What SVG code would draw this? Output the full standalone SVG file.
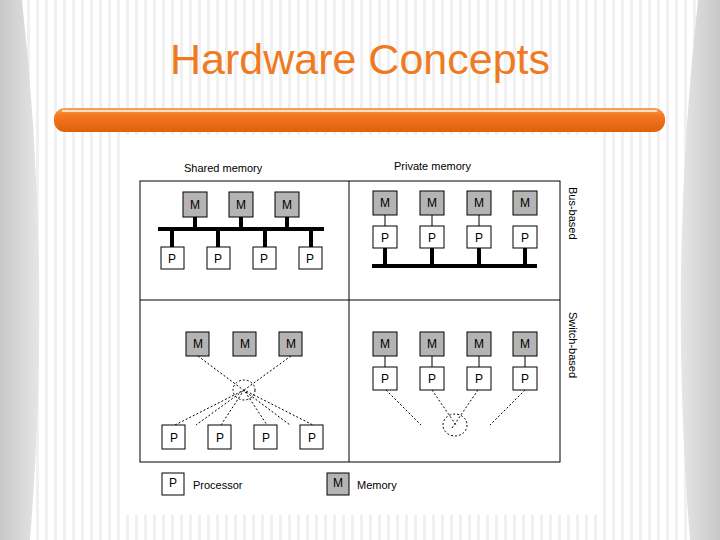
<svg xmlns="http://www.w3.org/2000/svg" width="720" height="540" viewBox="0 0 720 540">
<defs>
<pattern id="stripes" width="9" height="10" patternUnits="userSpaceOnUse"><rect width="9" height="10" fill="#fff"/><rect x="0" width="3" height="10" fill="#f0f0f0"/></pattern>
<linearGradient id="bar" x1="0" y1="0" x2="0" y2="1"><stop offset="0" stop-color="#f9a25a"/><stop offset="0.3" stop-color="#f47820"/><stop offset="1" stop-color="#e0600c"/></linearGradient>
<linearGradient id="sideL" x1="0" x2="1"><stop offset="0" stop-color="#c8c8c8"/><stop offset="1" stop-color="#e6e6e6"/></linearGradient>
<linearGradient id="sideR" x1="1" x2="0"><stop offset="0" stop-color="#c8c8c8"/><stop offset="1" stop-color="#e6e6e6"/></linearGradient>
</defs>
<style>
.m{fill:#b4b4b4;stroke:#000;stroke-width:1}
.p{fill:#fff;stroke:#000;stroke-width:1}
.t{font-family:"Liberation Sans",Arial,sans-serif;font-size:12px;fill:#000;text-anchor:middle}
.l{font-family:"Liberation Sans",Arial,sans-serif;font-size:11px;fill:#000}
.bus{stroke:#000;stroke-width:4;fill:none}
.thin{stroke:#000;stroke-width:1;fill:none}
.dot{stroke:#000;stroke-width:1;stroke-dasharray:2,2;fill:none}
</style>
<rect width="720" height="540" fill="url(#stripes)"/>
<path d="M0 0 H22 Q52 270 30 540 H0 Z" fill="url(#sideL)"/>
<path d="M720 0 H698 Q668 270 690 540 H720 Z" fill="url(#sideR)"/>
<text x="360" y="74" font-family="Liberation Sans,Arial,sans-serif" font-size="43" fill="#f07a22" text-anchor="middle">Hardware Concepts</text>
<rect x="54" y="108" width="611" height="24" rx="11" fill="url(#bar)"/>
<line x1="62" y1="111" x2="657" y2="111" stroke="#fde0c8" stroke-width="2"/>
<rect x="120" y="135" width="480" height="380" fill="#fff"/>
<text class="l" x="184" y="172">Shared memory</text>
<text class="l" x="394" y="170">Private memory</text>
<text class="l" transform="translate(569,187) rotate(90)">Bus-based</text>
<text class="l" transform="translate(569,312) rotate(90)">Switch-based</text>
<g id="frame" class="thin">
<rect x="140" y="181" width="420" height="281"/>
<line x1="349" y1="181" x2="349" y2="462"/>
<line x1="140" y1="300" x2="560" y2="300"/>
</g>
<g id="connectors">
<line class="bus" x1="158" y1="229" x2="324" y2="229"/>
<path class="bus" d="M195 217V229M241 217V229M287 217V229M172 229V247M218 229V247M265 229V247M311 229V247"/>
<path class="thin" d="M385 215V226M432 215V226M479 215V226"/>
<line class="bus" x1="372" y1="266" x2="537" y2="266"/>
<path class="bus" d="M385 248V266M432 248V266M479 248V266M525 248V266"/>
<path class="dot" d="M198 356L290 425M291 356L196 425M175 425L244 390L313 425M221 425L244 390L267 425"/>
<ellipse class="dot" cx="244" cy="390" rx="11" ry="10"/>
<path class="thin" d="M385 356V367M432 356V367M479 356V367M525 356V367"/>
<path class="dot" d="M386 390L421 425M432 390L456 425M478 390L452 428M525 390L490 425"/>
<ellipse class="dot" cx="455" cy="425" rx="12" ry="11"/>
</g>
<g id="tl-m"><rect class="m" x="183" y="192" width="24" height="25"/><text class="t" x="195" y="209">M</text>
<rect class="m" x="229" y="192" width="24" height="25"/><text class="t" x="241" y="209">M</text>
<rect class="m" x="275" y="192" width="24" height="25"/><text class="t" x="287" y="209">M</text></g>
<g id="tl-p"><rect class="p" x="161" y="247" width="23" height="22"/><text class="t" x="172" y="263">P</text>
<rect class="p" x="207" y="247" width="23" height="22"/><text class="t" x="218" y="263">P</text>
<rect class="p" x="253" y="247" width="23" height="22"/><text class="t" x="264" y="263">P</text>
<rect class="p" x="299" y="247" width="23" height="22"/><text class="t" x="310" y="263">P</text></g>
<g id="tr-m"><rect class="m" x="373" y="191" width="24" height="24"/><text class="t" x="385" y="207">M</text>
<rect class="m" x="420" y="191" width="24" height="24"/><text class="t" x="432" y="207">M</text>
<rect class="m" x="467" y="191" width="24" height="24"/><text class="t" x="479" y="207">M</text>
<rect class="m" x="513" y="191" width="24" height="24"/><text class="t" x="525" y="207">M</text></g>
<g id="tr-p"><rect class="p" x="373" y="226" width="24" height="22"/><text class="t" x="385" y="242">P</text>
<rect class="p" x="420" y="226" width="24" height="22"/><text class="t" x="432" y="242">P</text>
<rect class="p" x="467" y="226" width="24" height="22"/><text class="t" x="479" y="242">P</text>
<rect class="p" x="513" y="226" width="24" height="22"/><text class="t" x="525" y="242">P</text></g>
<g id="bl-m"><rect class="m" x="186" y="332" width="23" height="24"/><text class="t" x="198" y="348">M</text>
<rect class="m" x="233" y="332" width="23" height="24"/><text class="t" x="245" y="348">M</text>
<rect class="m" x="279" y="332" width="23" height="24"/><text class="t" x="291" y="348">M</text></g>
<g id="bl-p"><rect class="p" x="162" y="425" width="23" height="24"/><text class="t" x="174" y="442">P</text>
<rect class="p" x="208" y="425" width="23" height="24"/><text class="t" x="220" y="442">P</text>
<rect class="p" x="254" y="425" width="23" height="24"/><text class="t" x="266" y="442">P</text>
<rect class="p" x="300" y="425" width="23" height="24"/><text class="t" x="312" y="442">P</text></g>
<g id="br-m"><rect class="m" x="373" y="332" width="24" height="24"/><text class="t" x="385" y="348">M</text>
<rect class="m" x="420" y="332" width="24" height="24"/><text class="t" x="432" y="348">M</text>
<rect class="m" x="467" y="332" width="24" height="24"/><text class="t" x="479" y="348">M</text>
<rect class="m" x="513" y="332" width="24" height="24"/><text class="t" x="525" y="348">M</text></g>
<g id="br-p"><rect class="p" x="373" y="367" width="24" height="23"/><text class="t" x="385" y="383">P</text>
<rect class="p" x="420" y="367" width="24" height="23"/><text class="t" x="432" y="383">P</text>
<rect class="p" x="467" y="367" width="24" height="23"/><text class="t" x="479" y="383">P</text>
<rect class="p" x="513" y="367" width="24" height="23"/><text class="t" x="525" y="383">P</text></g>
<g id="legend-p"><rect class="p" x="162" y="473" width="22" height="22"/><text class="t" x="173" y="487">P</text><text class="l" x="193" y="489">Processor</text></g>
<g id="legend-m"><rect class="m" x="327" y="473" width="22" height="22"/><text class="t" x="338" y="487">M</text><text class="l" x="357" y="489">Memory</text></g>
</svg>
